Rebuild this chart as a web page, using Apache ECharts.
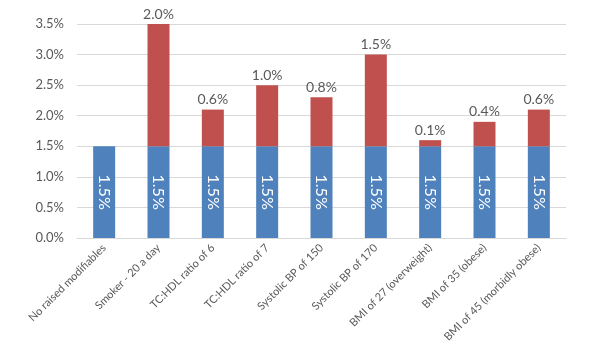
<!DOCTYPE html>
<html>
<head>
<meta charset="utf-8">
<script src="https://cdn.jsdelivr.net/npm/echarts@6/dist/echarts.min.js"></script>
<style>
    html, body { margin: 0; padding: 0; background: #fff; }
    #chart { width: 594px; height: 352px; }
</style>
</head>
<body>
<div id="chart"></div>
<script>
// categories and values (percent)
const categories = [
    "No raised modifiables",
    "Smoker - 20 a day",
    "TC:HDL ratio of 6",
    "TC:HDL ratio of 7",
    "Systolic BP of 150",
    "Systolic BP of 170",
    "BMI of 27 (overweight)",
    "BMI of 35 (obese)",
    "BMI of 45 (morbidly obese)"
];
const baseRisk = [1.5, 1.5, 1.5, 1.5, 1.5, 1.5, 1.5, 1.5, 1.5];
const addedRisk = [0, 2.0, 0.6, 1.0, 0.8, 1.5, 0.1, 0.4, 0.6];
const yTicks = { min: 0, max: 3.5, interval: 0.5 };

const font = "Lato, 'Open Sans', sans-serif";
const grey = "#595959";

let chart = echarts.init(document.getElementById("chart"));
chart.setOption({
    animation: false,
    grid: { left: 77, right: 28, top: 24, bottom: 114 },
    xAxis: {
        type: "category",
        data: categories,
        axisTick: { show: false },
        axisLine: { lineStyle: { color: "#d9d9d9" } },
        axisLabel: {
            rotate: 45,
            interval: 0,
            color: grey,
            fontFamily: font,
            fontSize: 11,
            margin: 8
        }
    },
    yAxis: {
        type: "value",
        min: yTicks.min,
        max: yTicks.max,
        interval: yTicks.interval,
        axisLine: { show: false },
        axisTick: { show: false },
        splitLine: { lineStyle: { color: "#d9d9d9" } },
        axisLabel: {
            color: grey,
            fontFamily: font,
            fontSize: 13,
            margin: 13,
            formatter: v => v.toFixed(1) + "%"
        }
    },
    series: [
        {
            name: "base",
            type: "bar",
            stack: "risk",
            data: baseRisk,
            barWidth: 22,
            itemStyle: { color: "#4F81BD" },
            label: {
                show: true,
                position: "inside",
                rotate: -90,
                color: "#fff",
                fontFamily: font,
                fontSize: 16,
                formatter: p => p.value.toFixed(1) + "%"
            }
        },
        {
            name: "added",
            type: "bar",
            stack: "risk",
            data: addedRisk,
            barWidth: 22,
            itemStyle: { color: "#C0504D" },
            label: {
                show: true,
                position: "top",
                distance: 3,
                color: grey,
                fontFamily: font,
                fontSize: 14,
                formatter: p => (p.value > 0 ? p.value.toFixed(1) + "%" : "")
            }
        }
    ]
});
</script>
</body>
</html>
